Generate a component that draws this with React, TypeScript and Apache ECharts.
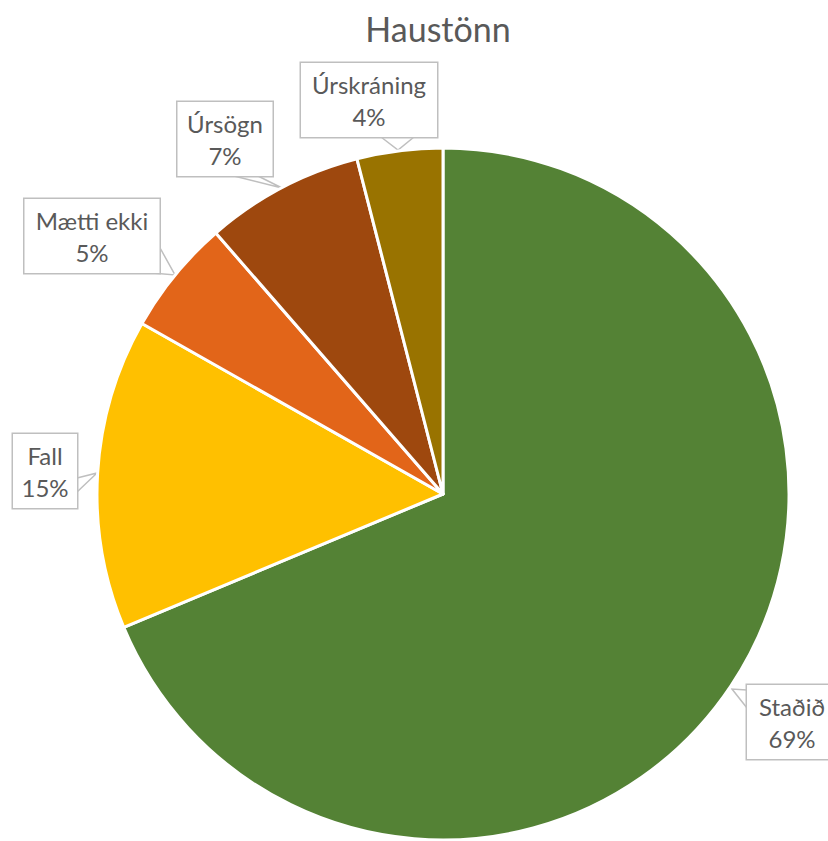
import React, { useEffect, useRef } from "react";
import * as echarts from "echarts";

const categories = ["Staðið", "Fall", "Mætti ekki", "Úrsögn", "Úrskráning"];
const values = [68.7, 14.5, 5.4, 7.4, 4.0];
const colors = ["#548235", "#FFC000", "#E26519", "#9E480E", "#997300"];
const titleText = "Haustönn";

// label box centres, inner widths and callout pointer points (layout only)
const labelPos: { x: number; y: number; w: number; pts: number[][] }[] = [
  { x: 792, y: 722, w: 70, pts: [[747, 690], [732, 689], [747, 708]] },
  { x: 45, y: 471, w: 44, pts: [[77, 478], [97, 473], [77, 492]] },
  { x: 92, y: 236, w: 115, pts: [[159, 246], [175, 275], [152, 273]] },
  { x: 225, y: 139, w: 75, pts: [[234, 176], [282, 188], [258, 176]] },
  { x: 369, y: 100, w: 116, pts: [[381, 137], [398, 150], [414, 137]] },
];

export default function App() {
  const ref = useRef<HTMLDivElement>(null);
  useEffect(() => {
    if (!ref.current) return;
    const chart = echarts.init(ref.current, undefined, { renderer: "svg" });
    chart.setOption({
      animation: false,
      backgroundColor: "#ffffff",
      title: {
        text: titleText,
        left: 433,
        top: 6,
        textAlign: "center",
        textStyle: {
          fontFamily: "Lato, 'Open Sans', sans-serif",
          fontSize: 34,
          fontWeight: "normal",
          color: "#595959",
        },
      },
      series: [
        {
          type: "pie",
          center: [443, 494],
          radius: [0, 346],
          startAngle: 90,
          clockwise: true,
          itemStyle: { borderColor: "#ffffff", borderWidth: 3 },
          data: categories.map((c, i) => ({
            name: c,
            value: values[i],
            itemStyle: { color: colors[i] },
            label: { width: labelPos[i].w },
          })),
          label: {
            show: true,
            position: "outside",
            overflow: "none",
            formatter: (p: any) => `${p.name}\n${Math.round(p.percent)}%`,
            fontFamily: "Lato, 'Open Sans', sans-serif",
            fontSize: 24,
            lineHeight: 32,
            color: "#595959",
            backgroundColor: "#ffffff",
            borderColor: "#bfbfbf",
            borderWidth: 1.5,
            padding: [5, 10],
            align: "center",
          },
          labelLine: {
            show: true,
            lineStyle: { color: "#bfbfbf", width: 1.5 },
          },
          labelLayout: (params: any) => {
            const p = labelPos[params.dataIndex];
            return {
              x: p.x,
              y: p.y,
              align: "center",
              verticalAlign: "middle",
              labelLinePoints: p.pts,
            };
          },
        },
      ],
    });
    return () => chart.dispose();
  }, []);
  return (
    <div
      ref={ref}
      style={{ position: "absolute", left: 0, top: 0, width: 828, height: 841 }}
    />
  );
}
